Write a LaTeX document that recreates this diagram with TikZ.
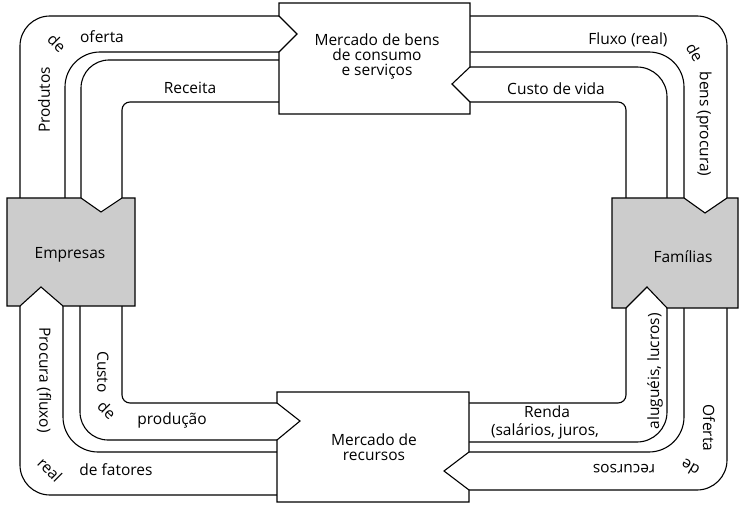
\documentclass[tikz,border=0pt]{standalone}
\usepackage{fontspec}
\setmainfont{Open Sans}
\begin{document}
\begin{tikzpicture}[x=1pt,y=-1pt,line width=1.1pt,
  box/.style={draw,fill=white},
  agent/.style={draw,fill=gray!40},
  lbl/.style={font=\fontsize{15.5}{17}\selectfont,inner sep=0pt,align=center},
  rc/.style={rounded corners=#1}]
\useasboundingbox (0,0) rectangle (744,505);
% bands top-left
\draw[rc=30] (279,16) -- (20,16) -- (20,198);
\draw[rc=35] (279,52) -- (65,52) -- (65,198);
\draw[rc=28] (279,60) -- (81,60) -- (81,198);
\draw[rc=8] (279,102) -- (122,102) -- (122,198);
% top-right
\draw[rc=30] (470,16) -- (727,16) -- (727,198);
\draw[rc=35] (470,52) -- (684,52) -- (684,198);
\draw[rc=30] (470,67) -- (667,67) -- (667,198);
\draw[rc=8] (470,102) -- (626,102) -- (626,198);
% bottom-left
\draw[rc=30] (20,306) -- (20,495) -- (277,495);
\draw[rc=35] (63,306) -- (63,452) -- (277,452);
\draw[rc=28] (80,306) -- (80,440) -- (277,440);
\draw[rc=8] (122,306) -- (122,403) -- (277,403);
% bottom-right
\draw[rc=30] (469,490) -- (727,490) -- (727,308);
\draw[rc=35] (469,452) -- (684,452) -- (684,308);
\draw[rc=30] (469,442) -- (667,442) -- (667,308);
\draw[rc=8] (469,403) -- (626,403) -- (626,308);
% boxes
\draw[box] (279,3) -- (470,3) -- (470,67) -- (452,84) -- (470,102) -- (470,114) -- (279,114) -- (279,52) -- (297,34) -- (279,16) -- cycle;
\node[lbl] (mb) at (377,56) {Mercado de bens\\[-2pt]de consumo\\[-2pt]e serviços};
\draw[box] (277,392) -- (469,392) -- (469,452) -- (444,471) -- (469,490) -- (469,502) -- (277,502) -- (277,440) -- (300,421) -- (277,403) -- cycle;
\node[lbl] (mr) at (374,447) {Mercado de\\[-2pt]recursos};
\draw[agent] (7,198) -- (81,198) -- (101,212) -- (122,198) -- (135,198) -- (135,306) -- (63,306) -- (41,287) -- (20,306) -- (7,306) -- cycle;
\node[lbl] (emp) at (70,255) {Empresas};
\draw[agent] (612,198) -- (684,198) -- (705,213) -- (727,198) -- (738,198) -- (738,308) -- (667,308) -- (647,287) -- (626,308) -- (612,308) -- cycle;
\node[lbl] (fam) at (683,257) {Famílias};
% labels
\node[lbl,rotate=90] at (44,100) {Produtos};
\node[lbl,rotate=-45] at (57,43) {de};
\node[lbl] at (102,37) {oferta};
\node[lbl] at (190,88) {Receita};
\node[lbl] at (628,40) {Fluxo (real)};
\node[lbl,rotate=-60] at (695,52) {de};
\node[lbl,rotate=-90] at (704,124) {bens (procura)};
\node[lbl] at (556,89) {Custo de vida};
\node[lbl,rotate=-90] at (44,380) {Procura (fluxo)};
\node[lbl,rotate=-45] at (50,470) {real};
\node[lbl] at (116,470) {de fatores};
\node[lbl,rotate=-90] at (103,372) {Custo};
\node[lbl,rotate=-45] at (107,410) {de};
\node[lbl] at (172,420) {produção};
\node[lbl] at (547,412) {Renda};
\node[lbl] at (545,431) {(salários, juros,};
\node[lbl,rotate=90,anchor=west] at (655,430) {aluguéis, lucros)};
\node[lbl,rotate=-90] at (709,428) {Oferta};
\node[lbl,rotate=150] at (690,468) {de};
\node[lbl,rotate=180] at (624,469) {recursos};
\end{tikzpicture}
\end{document}
